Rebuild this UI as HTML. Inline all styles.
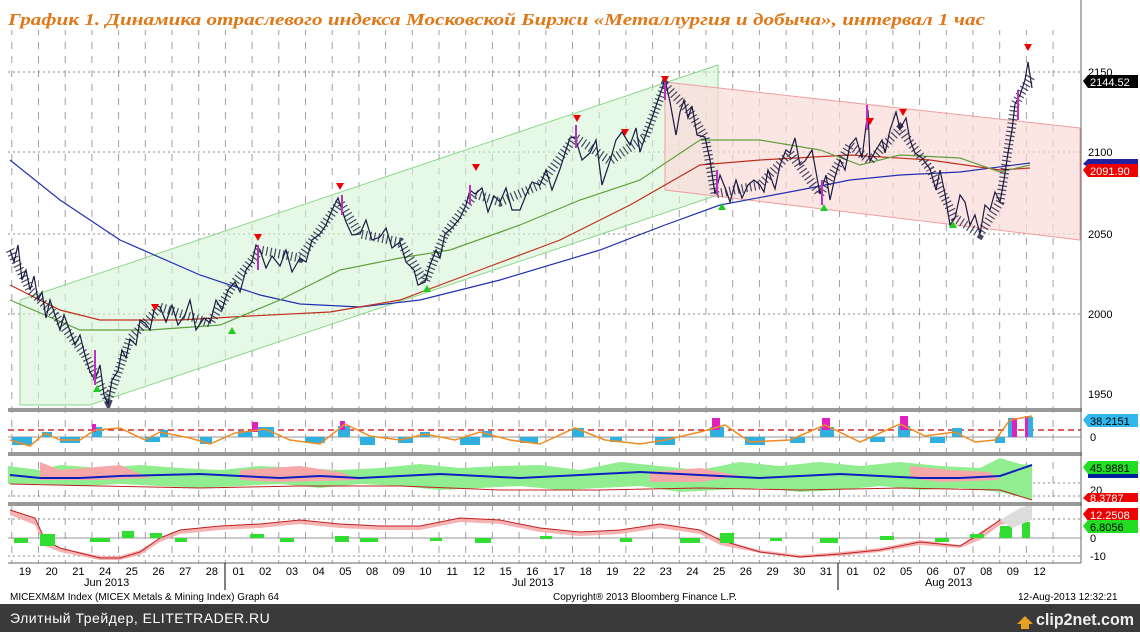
<!DOCTYPE html>
<html><head><meta charset="utf-8"><style>
html,body{margin:0;padding:0;background:#fff;width:1140px;height:632px;overflow:hidden}
svg{display:block}
text{font-family:"Liberation Sans","DejaVu Sans",sans-serif}
</style></head><body>
<svg width="1140" height="632" xmlns="http://www.w3.org/2000/svg">
<defs>
<pattern id="vg" x="38" y="0" width="26.7" height="632" patternUnits="userSpaceOnUse">
<line x1="0.5" y1="0" x2="0.5" y2="632" stroke="#888" stroke-width="0.8" stroke-dasharray="7,7"/>
</pattern>
</defs>
<rect width="1140" height="632" fill="#fff"/>
<rect x="8" y="30" width="1060" height="533" fill="url(#vg)"/>
<g stroke="#888" stroke-dasharray="2,3">
<line x1="8" y1="72" x2="1081" y2="72"/><line x1="8" y1="152" x2="1081" y2="152"/>
<line x1="8" y1="234" x2="1081" y2="234"/><line x1="8" y1="314" x2="1081" y2="314"/>
<line x1="8" y1="483" x2="1081" y2="483"/><line x1="8" y1="496" x2="1081" y2="496"/>
<line x1="8" y1="519" x2="1081" y2="519"/><line x1="8" y1="556" x2="1081" y2="556"/>
</g>
<polygon points="20,300 718,65 718,195 90,405 20,405" fill="#d6f5d6" fill-opacity="0.6" stroke="#8ad88a"/>
<polygon points="665,82 1080,128 1080,240 665,190" fill="#fbdcd8" fill-opacity="0.7" stroke="#f0a0a0"/>
<polyline fill="none" stroke="#2030b0" stroke-width="1.2" points="10,160 60,200 120,240 200,275 260,295 300,304 360,307 420,300 500,280 600,250 665,225 720,205 800,190 850,180 900,175 960,172 1030,163"/>
<polyline fill="none" stroke="#c03020" stroke-width="1.2" points="10,285 60,310 100,320 180,320 250,316 330,312 400,300 480,270 560,240 630,205 700,165 760,160 850,155 930,160 1000,170 1030,168"/>
<polyline fill="none" stroke="#60a040" stroke-width="1.2" points="10,300 80,330 150,330 220,325 280,300 340,270 400,258 450,250 520,225 580,200 640,180 700,140 760,140 820,150 860,165 900,155 960,158 1000,172 1030,165"/>
<g fill="none" stroke="#1a1a40">
<polyline stroke-width="1.2" points="10,250 14,262 18,245 22,280 26,270 30,290 34,276 38,300 42,292 46,318 50,300 55,315 60,330 64,315 70,331 75,345 80,335 85,355 90,372 95,380 100,365 104,395 108,404 112,380 118,371 122,350 126,358 130,339 136,345 140,320 145,323 150,330 155,305 160,307 166,322 172,305 178,325 185,315 190,300 196,330 204,318 210,323 216,300 222,310 228,290 235,282 240,292 246,270 252,262 256,245 260,250 266,268 272,256 280,266 286,250 292,272 300,258 306,262 312,240 320,234 326,225 332,210 338,198 342,210 346,222 352,235 360,234 366,220 372,240 380,237 386,228 392,248 400,242 406,262 414,270 418,285 425,282 430,265 436,250 440,258 445,234 452,228 460,218 466,205 470,190 475,194 482,188 488,212 494,196 500,202 506,188 512,210 520,210 526,195 532,182 540,185 546,170 552,190 560,169 566,150 570,138 575,137 582,160 590,153 596,140 602,185 610,161 616,140 622,132 630,145 636,128 640,152 645,137 652,118 658,100 665,80 670,102 676,135 680,112 684,100 688,118 692,106 697,135 705,137 710,160 715,194 720,175 726,190 730,202 736,180 742,198 748,185 754,180 760,185 764,192 768,170 775,189 780,165 786,150 790,153 795,138 800,165 805,161 812,150 820,194 826,175 830,200 835,177 840,160 845,170 850,145 856,138 862,158 868,110 870,161 876,150 882,140 885,153 890,130 896,112 900,129 906,118 910,140 915,153 922,158 930,169 936,190 940,170 945,194 950,225 955,218 960,195 965,202 970,225 975,215 980,234 985,205 990,210 995,192 1000,202 1004,180 1008,153 1012,130 1015,104 1020,95 1025,80 1028,62 1032,88"/>
<polyline stroke-width="9" stroke-dasharray="1.2,3" stroke-opacity="0.8" points="10,250 30,290 55,315 85,355 108,400 130,339 160,307 185,315 210,323 235,282 260,250 300,258 340,202 360,234 400,242 425,282 445,234 475,194 500,202 540,185 575,137 610,161 645,137 665,85 690,112 705,137 715,194 760,185 790,153 820,194 850,145 870,161 900,129 930,169 955,218 980,234 1000,202 1015,104 1032,75"/>
</g>
<g stroke="#c030c0" stroke-width="2">
<line x1="95" y1="350" x2="95" y2="385"/><line x1="258" y1="245" x2="258" y2="270"/><line x1="342" y1="195" x2="342" y2="215"/><line x1="470" y1="185" x2="470" y2="205"/><line x1="576" y1="125" x2="576" y2="148"/><line x1="665" y1="82" x2="665" y2="100"/><line x1="717" y1="170" x2="717" y2="195"/><line x1="822" y1="180" x2="822" y2="205"/><line x1="867" y1="105" x2="867" y2="130"/><line x1="1018" y1="90" x2="1018" y2="120"/>
</g>
<g fill="#e00">
<path d="M254,234h8l-4,7z"/><path d="M336,183h8l-4,7z"/><path d="M151,304h8l-4,7z"/><path d="M472,164h8l-4,7z"/><path d="M573,115h8l-4,7z"/><path d="M621,129h8l-4,7z"/><path d="M661,76h8l-4,7z"/><path d="M866,118h8l-4,7z"/><path d="M899,109h8l-4,7z"/><path d="M1024,44h8l-4,7z"/>
</g>
<g fill="#2c2">
<path d="M93,392h8l-4,-7z"/><path d="M228,334h8l-4,-7z"/><path d="M423,292h8l-4,-7z"/><path d="M718,210h8l-4,-7z"/><path d="M820,211h8l-4,-7z"/><path d="M949,228h8l-4,-7z"/>
</g>
<line x1="8" y1="437" x2="1081" y2="437" stroke="#999"/>
<line x1="8" y1="430" x2="1081" y2="430" stroke="#c00" stroke-width="1.3" stroke-dasharray="6,4"/>
<g fill="#30b0e0">
<rect x="12" y="437" width="20" height="8"/><rect x="42" y="432" width="10" height="5"/><rect x="60" y="437" width="20" height="6"/><rect x="92" y="427" width="10" height="10"/><rect x="145" y="437" width="15" height="5"/><rect x="160" y="430" width="8" height="7"/><rect x="200" y="437" width="12" height="7"/><rect x="238" y="431" width="14" height="6"/><rect x="258" y="427" width="16" height="10"/><rect x="305" y="437" width="20" height="6"/><rect x="338" y="426" width="12" height="11"/><rect x="360" y="437" width="15" height="8"/><rect x="398" y="437" width="15" height="6"/><rect x="420" y="432" width="10" height="5"/><rect x="460" y="437" width="20" height="8"/><rect x="482" y="431" width="10" height="6"/><rect x="520" y="437" width="18" height="6"/><rect x="572" y="428" width="12" height="9"/><rect x="610" y="437" width="12" height="5"/><rect x="655" y="437" width="20" height="8"/><rect x="710" y="427" width="14" height="10"/><rect x="745" y="437" width="20" height="8"/><rect x="790" y="437" width="15" height="6"/><rect x="820" y="427" width="14" height="10"/><rect x="870" y="437" width="15" height="5"/><rect x="898" y="426" width="12" height="11"/><rect x="930" y="437" width="15" height="6"/><rect x="952" y="428" width="10" height="9"/><rect x="995" y="437" width="10" height="6"/><rect x="1008" y="418" width="8" height="19"/><rect x="1025" y="417" width="8" height="20"/>
</g>
<g fill="#e020c0"><rect x="92" y="424" width="4" height="8"/><rect x="252" y="422" width="6" height="10"/><rect x="340" y="421" width="5" height="9"/><rect x="712" y="418" width="8" height="12"/><rect x="822" y="418" width="8" height="12"/><rect x="900" y="416" width="8" height="14"/><rect x="1012" y="418" width="5" height="19"/><rect x="1025" y="416" width="3" height="21"/></g>
<polyline fill="none" stroke="#f08c20" stroke-width="1.5" points="10,440 30,446 45,433 60,440 80,440 95,430 120,428 145,440 160,432 190,438 210,444 235,433 265,429 290,440 320,444 345,424 370,436 400,440 425,434 455,440 480,432 510,440 540,444 575,428 605,440 640,444 665,440 700,432 725,425 750,442 790,440 825,425 860,442 900,424 925,436 955,432 975,442 995,440 1010,420 1032,416"/>
<polygon fill="#90ee90" points="8,466 40,470 60,465 100,468 140,465 180,468 220,470 260,466 300,468 340,470 380,468 420,464 460,468 500,466 540,465 580,470 620,462 660,466 700,470 740,462 780,466 820,462 860,466 900,462 940,466 980,468 1000,458 1020,464 1032,465 1032,500 1000,492 960,488 920,490 880,486 840,490 800,492 760,488 720,490 680,492 640,486 600,488 560,490 520,486 480,488 440,490 400,486 360,484 320,488 280,484 240,486 200,488 160,486 120,484 80,486 40,484 8,484"/>
<polygon fill="#f6a8a8" points="40,462 60,470 120,465 150,478 100,480 40,480"/>
<polygon fill="#f6a8a8" points="240,470 300,466 340,472 360,480 280,482 240,480"/>
<polygon fill="#f6a8a8" points="650,472 700,468 740,476 700,482 650,482"/>
<polygon fill="#f6a8a8" points="910,466 950,470 990,472 1000,480 940,482 910,478"/>
<polyline fill="none" stroke="#1020c0" stroke-width="2" points="10,475 40,478 80,478 120,476 160,475 200,474 240,476 280,478 320,476 360,478 400,476 440,474 480,476 520,478 560,476 600,474 640,472 680,474 720,476 760,478 800,476 840,474 880,476 920,478 960,478 1000,476 1032,465"/>
<polyline fill="none" stroke="#c02020" stroke-width="1" points="10,484 100,486 200,488 300,486 400,486 500,490 600,490 700,488 800,490 900,488 1000,490 1032,500"/>
<line x1="8" y1="538" x2="1081" y2="538" stroke="#999"/>
<polygon fill="#f4a0a0" opacity="0.8" points="10,510 35,518 45,540 60,548 100,556 120,556 140,550 160,538 180,530 220,526 260,524 300,520 340,524 380,526 420,526 460,518 500,520 540,528 580,532 620,530 660,524 700,530 720,540 760,550 800,555 840,552 880,548 920,540 960,545 980,532 1000,520 1032,510 1032,518 1000,525 980,540 960,548 920,545 880,552 840,556 800,558 760,553 720,545 700,534 660,528 620,534 580,536 540,532 500,524 460,522 420,530 380,530 340,528 300,524 260,528 220,530 180,534 160,542 140,555 120,560 100,560 60,552 45,546 35,525 10,515"/>
<polyline fill="none" stroke="#c02020" stroke-width="1" points="10,510 35,518 45,540 60,548 100,558 120,558 140,552 160,538 180,530 220,526 260,524 300,520 340,524 380,526 420,526 460,518 500,520 540,528 580,532 620,530 660,524 700,530 720,540 760,552 800,557 840,554 880,550 920,542 960,546 980,534 1000,520 1032,512"/>
<g fill="#30dd30">
<rect x="14" y="538" width="14" height="5"/><rect x="40" y="534" width="15" height="12"/><rect x="90" y="538" width="20" height="4"/><rect x="122" y="531" width="12" height="7"/><rect x="150" y="533" width="12" height="5"/><rect x="175" y="538" width="12" height="4"/><rect x="250" y="534" width="14" height="4"/><rect x="280" y="538" width="14" height="4"/><rect x="335" y="536" width="14" height="6"/><rect x="360" y="538" width="18" height="4"/><rect x="430" y="538" width="12" height="3"/><rect x="475" y="538" width="16" height="5"/><rect x="540" y="536" width="12" height="3"/><rect x="620" y="538" width="12" height="4"/><rect x="680" y="538" width="20" height="5"/><rect x="720" y="533" width="14" height="10"/><rect x="770" y="538" width="12" height="3"/><rect x="820" y="538" width="18" height="5"/><rect x="880" y="536" width="14" height="4"/><rect x="935" y="538" width="14" height="4"/><rect x="970" y="534" width="14" height="4"/><rect x="1000" y="526" width="12" height="12"/><rect x="1022" y="522" width="8" height="16"/>
</g>
<polygon fill="#ddd" points="1000,520 1020,508 1032,505 1032,520 1012,528"/>
<rect x="8" y="408" width="1074" height="4" fill="#999"/>
<rect x="8" y="452" width="1074" height="4" fill="#999"/>
<rect x="8" y="502" width="1074" height="4" fill="#999"/>
<line x1="1081" y1="0" x2="1081" y2="563" stroke="#666"/>
<line x1="8" y1="563" x2="1081" y2="563" stroke="#666"/>
<line x1="225" y1="563" x2="225" y2="590" stroke="#000"/>
<line x1="838" y1="563" x2="838" y2="590" stroke="#000"/>
<g font-size="11" text-anchor="middle">
<text x="25" y="575">19</text><text x="51.7" y="575">20</text><text x="78.4" y="575">21</text><text x="105.1" y="575">24</text><text x="131.8" y="575">25</text><text x="158.5" y="575">26</text><text x="185.2" y="575">27</text><text x="211.9" y="575">28</text><text x="238.6" y="575">01</text><text x="265.3" y="575">02</text><text x="292" y="575">03</text><text x="318.7" y="575">04</text><text x="345.4" y="575">05</text><text x="372.1" y="575">08</text><text x="398.8" y="575">09</text><text x="425.5" y="575">10</text><text x="452.2" y="575">11</text><text x="478.9" y="575">12</text><text x="505.6" y="575">15</text><text x="532.3" y="575">16</text><text x="559" y="575">17</text><text x="585.7" y="575">18</text><text x="612.4" y="575">19</text><text x="639.1" y="575">22</text><text x="665.8" y="575">23</text><text x="692.5" y="575">24</text><text x="719.2" y="575">25</text><text x="745.9" y="575">26</text><text x="772.6" y="575">29</text><text x="799.3" y="575">30</text><text x="826" y="575">31</text><text x="852.7" y="575">01</text><text x="879.4" y="575">02</text><text x="906.1" y="575">05</text><text x="932.8" y="575">06</text><text x="959.5" y="575">07</text><text x="986.2" y="575">08</text><text x="1012.9" y="575">09</text><text x="1039.6" y="575">12</text>
</g>
<text x="8" y="25" font-style="italic" font-weight="bold" font-size="17" fill="#e07818" textLength="977" lengthAdjust="spacingAndGlyphs" style="font-family:'Liberation Serif','DejaVu Serif',serif">График 1.   Динамика отраслевого индекса Московской Биржи «Металлургия и добыча», интервал 1 час</text>
<text x="84" y="586" font-size="11">Jun 2013</text>
<text x="512" y="586" font-size="11">Jul 2013</text>
<text x="925" y="586" font-size="11">Aug 2013</text>
<text x="10" y="600" font-size="10">MICEXM&amp;M Index (MICEX Metals &amp; Mining Index) Graph 64</text>
<text x="553" y="600" font-size="10">Copyright® 2013 Bloomberg Finance L.P.</text>
<text x="1018" y="600" font-size="10">12-Aug-2013 12:32:21</text>
<rect x="0" y="604" width="1140" height="28" fill="#3a3a3a"/>
<text x="10" y="623" font-size="14" fill="#fff" letter-spacing="0.5">Элитный Трейдер, ELITETRADER.RU</text>
<path d="M1017,624 l8,-8 l8,8 h-4 v5 h-8 v-5z" fill="#e8a020"/>
<text x="1036" y="625" font-size="17" font-weight="bold" fill="#eee" textLength="98" lengthAdjust="spacingAndGlyphs">clip2net.com</text>
<g font-size="11">
<text x="1088" y="76">2150</text><text x="1088" y="156">2100</text><text x="1088" y="238">2050</text><text x="1088" y="318">2000</text><text x="1088" y="398">1950</text>
<path d="M1083,81 l5,-6 h50 v13 h-50z" fill="#000"/><text x="1090" y="86" fill="#fff">2144.52</text>
<path d="M1083,164 l5,-5 h50 v8 h-50z" fill="#2020a0"/>
<path d="M1083,170 l5,-6 h50 v13 h-50z" fill="#e00"/><text x="1090" y="175" fill="#fff">2091.90</text>
<path d="M1083,420 l5,-6 h50 v13 h-50z" fill="#30b8ee"/><text x="1090" y="425">38.2151</text>
<text x="1090" y="441">0</text>
<path d="M1083,467 l5,-6 h50 v13 h-50z" fill="#22dd22"/><text x="1090" y="472">45.9881</text>
<rect x="1088" y="474" width="50" height="4" fill="#0020a0"/>
<text x="1090" y="494">20</text>
<path d="M1083,498 l5,-5 h50 v9 h-50z" fill="#e00"/><text x="1090" y="502" fill="#fff">8.3787</text>
<path d="M1083,514 l5,-6 h50 v13 h-50z" fill="#e00"/><text x="1090" y="519" fill="#fff">12.2508</text>
<path d="M1083,526 l5,-6 h50 v13 h-50z" fill="#22dd22"/><text x="1090" y="531">6.8056</text>
<text x="1090" y="542">0</text><text x="1090" y="560">-10</text>
</g>
</svg>
</body></html>
